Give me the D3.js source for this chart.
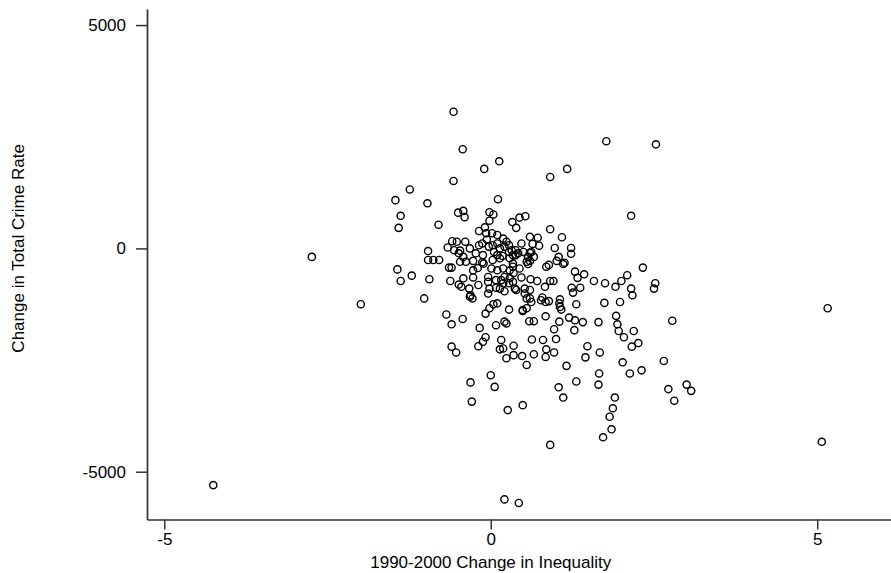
<!DOCTYPE html>
<html>
<head>
<meta charset="utf-8">
<script src="https://cdn.jsdelivr.net/npm/d3@7"></script>
<style>
  body { margin: 0; background: #fff; }
  text { font-family: "Liberation Sans", Arial, sans-serif; }
</style>
</head>
<body>
<div id="chart"></div>
<script>
// 1990-2000 change in inequality (x) vs change in total crime rate (y)
const inequalityChange = [
  -4.25, -2.74, -1.99, 5.16, 5.07, 3.00, 3.07, -0.57, -0.43, -0.10,
  0.13, -0.57, -1.24, -1.46, -0.97, 0.11, -1.38, -1.41, -0.80, -0.50,
  -0.42, -0.40, -0.02, 0.04, -0.02, 0.33, 0.39, 0.44, -0.18, -0.09,
  1.77, 2.53, 1.17, 0.91, 2.15, 0.53, 0.91, 1.09, 0.60, 0.72,
  0.74, 0.64, 0.98, 1.23, 1.23, 1.04, 0.60, 0.47, 0.19, 2.33,
  2.09, 2.00, 2.52, 2.50, 2.15, 2.17, 1.91, 1.75, 1.58, 1.43,
  1.29, 1.33, 1.24, 1.37, 1.26, 1.74, 1.98, 1.31, 2.78, 1.92,
  1.94, 1.65, 1.41, 1.29, 1.28, 1.96, 2.19, 2.04, 2.26, 2.16,
  1.48, 1.67, 1.45, 2.02, 2.65, 1.16, 1.66, 2.13, 2.31, 1.31,
  1.65, 1.04, 2.72, 0.97, 1.05, 1.20, 1.08, 1.05, 1.06, 0.84,
  0.66, 0.59, 0.80, 0.63, 1.00, 0.85, 0.97, 0.84, 0.66, 0.35,
  0.35, 0.48, 0.24, 0.55, 0.19, 0.16, 0.84, 0.89, 0.79, 0.62,
  0.55, 0.28, 0.49, 0.55, 0.21, 0.85, 0.89, 1.01, 1.11, 0.60,
  0.57, 0.66, 0.34, 0.35, 0.47, 0.61, 0.71, 0.83, 0.91, 0.96,
  0.52, 0.39, 0.19, 0.34, -0.07, 0.02, 0.10, 0.28, 0.38, -0.06,
  -0.18, -0.13, -0.03, 0.03, 0.10, 0.14, 0.21, 0.28, 0.38, -0.59,
  -0.52, -0.39, -0.66, -0.56, -0.47, -0.96, -0.23, -0.12, 0.10, 0.18,
  0.29, -0.42, -0.49, -0.96, -0.88, -0.79, -1.21, -0.94, -0.64, -0.60,
  -0.62, -1.02, -0.47, -0.38, -0.27, -0.13, -0.27, -0.42, -0.27, -0.49,
  -0.45, -0.33, -0.19, -0.32, -0.28, -0.31, -0.04, -0.04, 0.08, 0.16,
  -0.02, 0.08, 0.14, 0.28, 0.37, -0.04, 0.04, 0.10, -0.02, -0.08,
  0.24, 0.08, -0.17, -0.68, -0.60, -0.43, 0.01, 0.10, 0.19, 0.29,
  0.34, 0.21, 0.29, 0.14, 1.13, 0.62, 0.50, 0.55, 0.57, 0.32,
  0.34, 0.60, 0.52, 0.77, 0.60, 0.49, 1.06, -1.43, -1.38, -0.60,
  -0.53, -0.31, 0.00, 0.06, -0.11, -0.19, -0.12, -0.08, 0.14, -0.29,
  0.26, 0.49, 1.11, 0.91, 1.90, 1.87, 1.82, 1.85, 1.72, 2.81,
  0.21, 0.43, 0.42, 0.24, 0.05, -0.32, 0.44, 0.03, -0.20, 0.21
];
const crimeChange = [
  -5300, -190, -1250, -1340, -4330, -3050, -3190, 3060, 2220, 1780,
  1950, 1510, 1320, 1080, 1010, 1100, 730, 460, 530, 800,
  840, 700, 810, 760, 620, 590, 460, 690, 390, 470,
  2400, 2330, 1780, 1600, 730, 720, 430, 250, 260, 240,
  60, 100, 10, 10, -120, -190, -100, 110, 220, -430,
  -600, -730, -780, -900, -900, -1050, -860, -780, -730, -580,
  -520, -660, -880, -880, -990, -1220, -1200, -1250, -1620, -1510,
  -1700, -1650, -1650, -1610, -1830, -1850, -1850, -1990, -2120, -2200,
  -2190, -2330, -2440, -2550, -2520, -2630, -2800, -2800, -2730, -2980,
  -3050, -3110, -3150, -1810, -1640, -1550, -1370, -1230, -1140, -1520,
  -1630, -1630, -2050, -2040, -2030, -2260, -2330, -2430, -2370, -2180,
  -2390, -2410, -2460, -2610, -2240, -2050, -1200, -1180, -1100, -1200,
  -1120, -1370, -1400, -1340, -1640, -410, -370, -280, -350, -280,
  -350, -190, -410, -550, -650, -690, -730, -860, -730, -730,
  -1010, -930, -780, -750, 340, 340, 300, 70, -40, 200,
  70, 110, 40, 70, 110, 0, 40, -80, -150, 160,
  150, 150, 20, -40, -50, -60, -110, -150, -150, -170,
  -220, -190, -110, -260, -260, -260, -610, -690, -430, -430,
  -730, -1120, -300, -300, -280, -310, -490, -670, -650, -810,
  -860, -900, -820, -1080, -1120, -1050, -640, -750, -710, -710,
  -900, -880, -900, -780, -900, -1010, -1250, -1230, -1340, -1460,
  -1680, -1720, -1780, -1480, -1700, -1580, -450, -490, -450, -490,
  -340, -640, -670, -220, -320, -80, -80, -300, -190, -40,
  -150, -930, -900, -1160, -1120, -1380, -1310, -470, -730, -2200,
  -2330, -3000, -2840, -3100, -340, -2190, -2090, -1990, -2260, -3430,
  -3620, -3510, -3340, -4400, -3340, -3580, -3770, -4050, -4230, -3410,
  -5620, -5700, -110, 150, -80, 0, -450, -260, -440, -960
];

const xTicks = [-5, 0, 5];
const yTicks = [-5000, 0, 5000];
const xTitle = "1990-2000 Change in Inequality";
const yTitle = "Change in Total Crime Rate";

const width = 891, height = 573;
const plot = { left: 147, right: 891, top: 9, bottom: 519.5 };
const fontSize = "17px";

const svg = d3
  .select("#chart")
  .append("svg")
  .attr("width", width)
  .attr("height", height);

const x = d3.scaleLinear().domain([-5.265, 6.13]).range([plot.left, plot.right]);
const y = d3.scaleLinear().domain([-6070, 5360]).range([plot.bottom, plot.top]);

const points = inequalityChange.map((v, i) => ({ x: v, y: crimeChange[i] }));

// markers: hollow circles
svg
  .append("g")
  .selectAll("circle")
  .data(points)
  .enter()
  .append("circle")
  .attr("cx", (d) => x(d.x))
  .attr("cy", (d) => y(d.y))
  .attr("r", 3.6)
  .attr("fill", "none")
  .attr("stroke", "#000")
  .attr("stroke-width", 1.4);

// axes (plain hyphen minus, no thousands separator)
const plain = (d) => String(d);

const xAxis = svg
  .append("g")
  .attr("transform", `translate(0,${plot.bottom})`)
  .call(d3.axisBottom(x).tickValues(xTicks).tickFormat(plain).tickSize(10).tickSizeOuter(0).tickPadding(3));

const yAxis = svg
  .append("g")
  .attr("transform", `translate(${plot.left},0)`)
  .call(d3.axisLeft(y).tickValues(yTicks).tickFormat(plain).tickSize(11).tickSizeOuter(0).tickPadding(10));

[xAxis, yAxis].forEach((g) => {
  g.select(".domain").attr("stroke", "#333").attr("stroke-width", 1.7);
  g.selectAll(".tick line").attr("stroke", "#333").attr("stroke-width", 1.5);
  g.selectAll(".tick text")
    .attr("fill", "#000")
    .style("font-family", '"Liberation Sans", Arial, sans-serif')
    .style("font-size", fontSize);
});

// titles
svg
  .append("text")
  .attr("x", x(0))
  .attr("y", 568)
  .attr("text-anchor", "middle")
  .style("font-size", fontSize)
  .text(xTitle);

svg
  .append("text")
  .attr("transform", `translate(24,${y(0)}) rotate(-90)`)
  .attr("text-anchor", "middle")
  .style("font-size", fontSize)
  .text(yTitle);
</script>
</body>
</html>
